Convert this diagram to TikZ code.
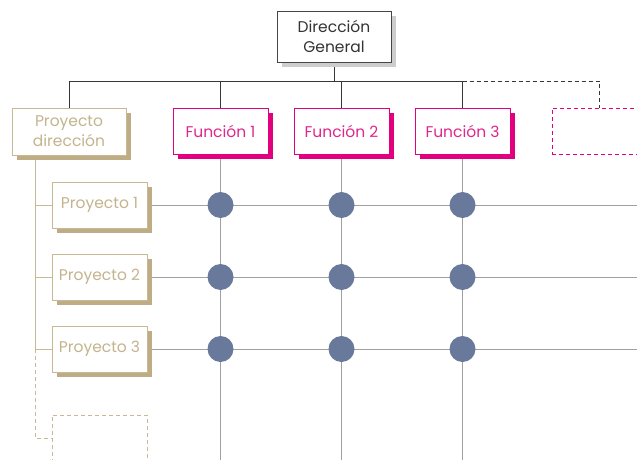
\documentclass[tikz,border=0pt]{standalone}
\usepackage{fontspec}
\setmainfont{Poppins}
\usetikzlibrary{shadows,backgrounds}
\definecolor{fnpink}{RGB}{226,0,126}
\definecolor{fntext}{RGB}{222,40,140}
\definecolor{sandline}{RGB}{200,184,148}
\definecolor{sandtext}{RGB}{196,180,142}
\definecolor{sandshadow}{RGB}{190,172,132}
\definecolor{slate}{RGB}{104,121,155}
\definecolor{gridgray}{RGB}{160,160,160}
\definecolor{conngray}{RGB}{55,55,55}
\definecolor{boxgray}{RGB}{70,70,70}
\definecolor{shadegray}{RGB}{205,205,205}
\tikzset{
  every node/.style={inner sep=0pt, align=center, font=\fontsize{15.5}{20}\selectfont},
  orgbox/.style={draw, fill=white, line width=0.9pt, minimum width=95pt, minimum height=46pt},
  headbox/.style={orgbox, draw=boxgray, text=black!80, minimum width=114pt, minimum height=51pt,
    drop shadow={shadow xshift=5pt, shadow yshift=-5pt, fill=shadegray, opacity=1}},
  fnbox/.style={orgbox, draw=fnpink, text=fntext,
    drop shadow={shadow xshift=5pt, shadow yshift=-5pt, fill=fnpink, opacity=1}},
  fnghost/.style={orgbox, draw=fnpink, dash pattern=on 4pt off 3pt},
  projbox/.style={orgbox, draw=sandline, text=sandtext,
    drop shadow={shadow xshift=5pt, shadow yshift=-5pt, fill=sandshadow, opacity=1}},
  projghost/.style={orgbox, draw=sandline, dash pattern=on 4pt off 3pt},
  conn/.style={draw=conngray, line width=0.9pt},
  gridline/.style={draw=gridgray, line width=1pt},
  trunk/.style={draw=sandline, line width=1pt},
  dot/.style={circle, fill=slate, minimum size=26pt},
}
\begin{document}
\begin{tikzpicture}[x=1pt, y=-1pt]
  \useasboundingbox (0,0) rectangle (637,460);
  \clip (0,0) rectangle (637,460);

  % top of the hierarchy
  \node[headbox] (dg) at (334,36.5) {Dirección\\General};

  % functional departments
  \node[projbox, minimum width=114pt, minimum height=47pt] (pd) at (69,131.5) {Proyecto\\dirección};
  \node[fnbox] (f1) at (220.5,131) {Función 1};
  \node[fnbox] (f2) at (341.5,131) {Función 2};
  \node[fnbox] (f3) at (462.5,131) {Función 3};
  \node[fnghost] (fx) at (599.5,131) {};

  % projects
  \node[projbox] (p1) at (99.5,205) {Proyecto 1};
  \node[projbox] (p2) at (99.5,277) {Proyecto 2};
  \node[projbox] (p3) at (99.5,349) {Proyecto 3};
  \node[projghost] (px) at (99.5,438) {};

  \coordinate (bus) at (0,81);
  \coordinate (stem) at (35,0);
  \coordinate (floor) at (0,470);
  \coordinate (edge) at (645,0);

  \begin{scope}[on background layer]
    % reporting lines
    \draw[conn] (dg.south) -- (dg.south |- bus);
    \draw[conn] (pd.north) -- (pd.north |- bus) -- (f3.north |- bus) -- (f3.north);
    \draw[conn] (f1.north |- bus) -- (f1.north);
    \draw[conn] (f2.north |- bus) -- (f2.north);
    \draw[conn, dash pattern=on 4pt off 3pt] (f3.north |- bus) -| (fx.north);

    % project tree
    \draw[trunk] (pd.south -| stem) -- (p3.west -| stem);
    \draw[trunk] (p1.west -| stem) -- (p1.west);
    \draw[trunk] (p2.west -| stem) -- (p2.west);
    \draw[trunk] (p3.west -| stem) -- (p3.west);
    \draw[trunk, dash pattern=on 4pt off 3pt] (p3.west -| stem) |- (px.west);

    % matrix grid
    \foreach \f in {f1,f2,f3} \draw[gridline] (\f.south) -- (\f.south |- floor);
    \foreach \p in {p1,p2,p3} \draw[gridline] (\p.east) -- (\p.east -| edge);
  \end{scope}

  % matrix intersections
  \foreach \p in {p1,p2,p3}
    \foreach \f in {f1,f2,f3}
      \node[dot] (\p\f) at (\f.center |- \p.center) {};
\end{tikzpicture}
\end{document}
